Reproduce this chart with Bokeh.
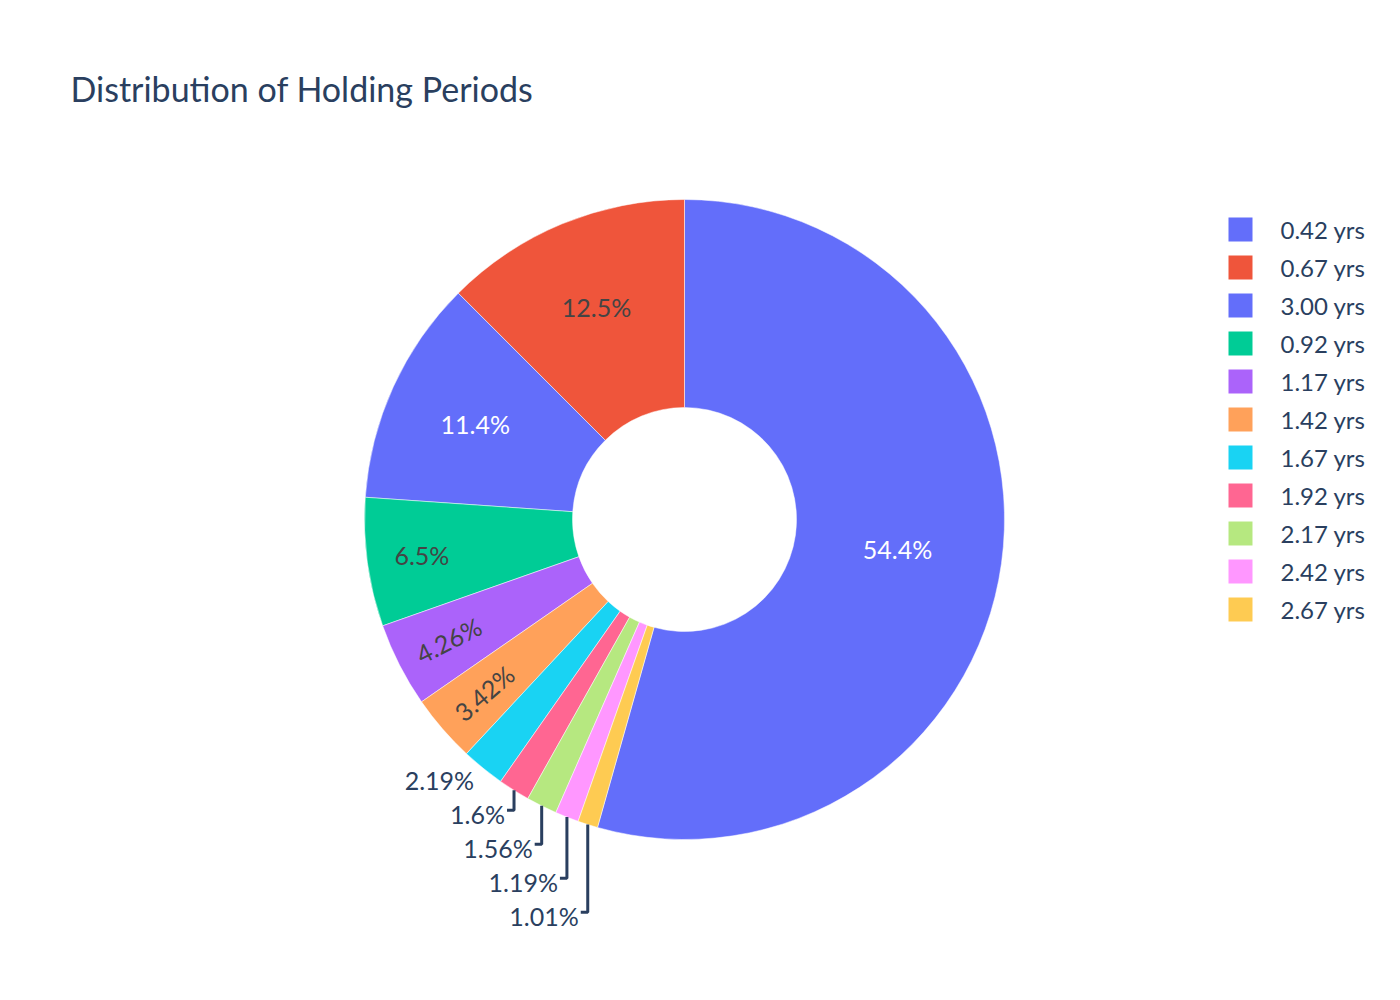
import math

from bokeh.core.properties import value
from bokeh.embed import file_html
from bokeh.models import ColumnDataSource, Range1d
from bokeh.plotting import figure
from bokeh.resources import INLINE

# holding periods, ordered by share (largest first), as in the legend
periods = ["0.42 yrs", "0.67 yrs", "3.00 yrs", "0.92 yrs", "1.17 yrs", "1.42 yrs",
           "1.67 yrs", "1.92 yrs", "2.17 yrs", "2.42 yrs", "2.67 yrs"]
shares = [54.4, 12.5, 11.4, 6.5, 4.26, 3.42, 2.19, 1.6, 1.56, 1.19, 1.01]
share_labels = ["54.4%", "12.5%", "11.4%", "6.5%", "4.26%", "3.42%",
                "2.19%", "1.6%", "1.56%", "1.19%", "1.01%"]
colors = ["#636efa", "#EF553B", "#636efa", "#00cc96", "#ab63fa", "#FFA15A",
          "#19d3f3", "#FF6692", "#B6E880", "#FF97FF", "#FECB52"]

W, H = 1384, 984
FONT = "Lato"
TEXT_COLOR = "#2a3f5f"

# pie geometry (screen pixels, y up)
cx, cy = 684, 465
r_out, r_in = 320, 112


def brightness(hex_color):
    h = hex_color.lstrip("#")
    r, g, b = int(h[0:2], 16), int(h[2:4], 16), int(h[4:6], 16)
    return (r * 299 + g * 587 + b * 114) / 1000


total = sum(shares)
fracs = [s / total for s in shares]

# first slice ends at 12 o'clock, the rest run counterclockwise from there
starts, ends = [], []
cum = 0.0
for f in fracs:
    a0 = math.pi / 2 + 2 * math.pi * (cum - fracs[0])
    starts.append(a0)
    ends.append(a0 + 2 * math.pi * f)
    cum += f

p = figure(width=W, height=H, x_range=Range1d(0, W), y_range=Range1d(0, H),
           x_axis_type=None, y_axis_type=None, toolbar_location=None,
           output_backend="svg", min_border=0)
p.outline_line_color = None
p.xgrid.visible = False
p.ygrid.visible = False
p.background_fill_color = "white"

wedges = ColumnDataSource(data=dict(start=starts, end=ends, color=colors))
p.annular_wedge(x=cx, y=cy, inner_radius=r_in, outer_radius=r_out,
                start_angle="start", end_angle="end", fill_color="color",
                line_color="white", line_width=0.5, source=wedges)

# inside labels
in_x, in_y, in_text, in_color, in_angle = [], [], [], [], []
# outside labels
out_x, out_y, out_text = [], [], []
lead_xs, lead_ys = [], []
prev_y = None
for i, f in enumerate(fracs):
    mid = (starts[i] + ends[i]) / 2
    if f >= 0.03:
        if f > 0.5:
            rr = 215
        elif f > 0.1:
            rr = 230
        else:
            rr = 265
        in_x.append(cx + rr * math.cos(mid))
        in_y.append(cy + rr * math.sin(mid))
        in_text.append(share_labels[i])
        in_color.append("#ffffff" if brightness(colors[i]) < 128 else "#444444")
        in_angle.append(mid - math.pi if f < 0.05 else 0.0)
    else:
        px = cx + r_out * math.cos(mid)
        py = cy + r_out * math.sin(mid)
        ly = py - 12
        if prev_y is not None:
            ly = min(ly, prev_y - 34)
        prev_y = ly
        out_x.append(px - 9)
        out_y.append(ly)
        out_text.append(share_labels[i])
        if ly < py - 13:
            lead_xs.append([px, px, px - 7])
            lead_ys.append([py, ly + 4, ly + 4])

p.text(x=in_x, y=in_y, text=in_text, angle=in_angle, text_color=in_color,
       text_font=value(FONT), text_font_size="25px",
       text_align="center", text_baseline="middle")
p.text(x=out_x, y=out_y, text=out_text, text_color=TEXT_COLOR,
       text_font=value(FONT), text_font_size="25px",
       text_align="right", text_baseline="middle")
p.multi_line(xs=lead_xs, ys=lead_ys, line_color=TEXT_COLOR, line_width=3)

# legend
leg_y = [H - 229 - 38 * i for i in range(len(periods))]
p.rect(x=[1240] * len(periods), y=leg_y, width=24, height=24,
       width_units="screen", height_units="screen",
       fill_color=colors, line_color=None)
p.text(x=[1280] * len(periods), y=leg_y, text=periods, text_color=TEXT_COLOR,
       text_font=value(FONT), text_font_size="24px",
       text_align="left", text_baseline="middle")

# title
p.text(x=[70], y=[H - 88], text=["Distribution of Holding Periods"],
       text_color=TEXT_COLOR, text_font=value(FONT), text_font_size="34px",
       text_align="left", text_baseline="middle")

open("out.html", "w").write(file_html(p, INLINE))
